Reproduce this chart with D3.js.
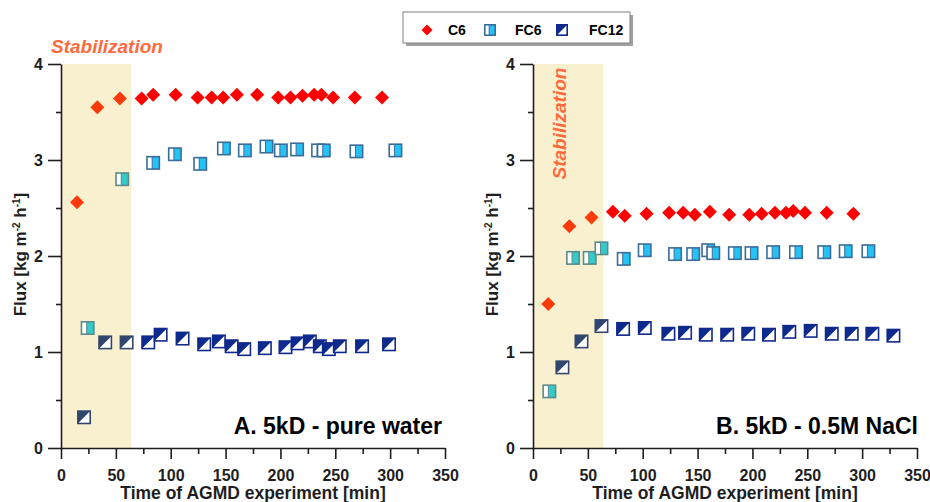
<!DOCTYPE html>
<html><head><meta charset="utf-8">
<script src="https://cdn.jsdelivr.net/npm/d3@7/dist/d3.min.js"></script>
<style>
body{margin:0;background:#fff}
svg{display:block;font-family:"Liberation Sans",Arial,Helvetica,sans-serif}
</style></head><body>
<svg id="chart" width="930" height="502"></svg>
<script>
// ---- data ----
const seriesNames = ["C6", "FC6", "FC12"];
const panelTitles = ["A. 5kD - pure water", "B. 5kD - 0.5M NaCl"];
const xTickValues = [0, 50, 100, 150, 200, 250, 300, 350];
const xMinorTicks = [25, 75, 125, 175, 225, 275, 325];
const yTickValues = [0, 1, 2, 3, 4];
const yMinorTicks = [0.5, 1.5, 2.5, 3.5];
const stabilizationEnd = 64; // min
const xTitle = "Time of AGMD experiment [min]";
const bandLabel = "Stabilization";

// Panel A: 5kD - pure water
const c6TimeA = [14.6, 33.1, 53.7, 73.5, 84, 104.5, 124.5, 137.3, 147.8, 160.3, 178.8, 197.9, 209.2, 220.1, 230.7, 237.4, 248, 267.8, 292.6];
const c6FluxA = [2.56, 3.55, 3.64, 3.64, 3.68, 3.68, 3.65, 3.65, 3.65, 3.68, 3.68, 3.65, 3.65, 3.67, 3.68, 3.68, 3.65, 3.65, 3.65];
const fc6TimeA = [24.3, 55.8, 84, 103.8, 126.9, 148.5, 167.6, 187.3, 200.4, 215.2, 234.3, 239.5, 269.3, 304.8];
const fc6FluxA = [1.25, 2.80, 2.97, 3.06, 2.96, 3.12, 3.10, 3.14, 3.10, 3.11, 3.10, 3.10, 3.09, 3.10];
const fc12TimeA = [21, 40.3, 59.8, 79.5, 90.8, 110.8, 130.5, 143.9, 155.5, 167, 185.8, 204.6, 215.6, 226.8, 235.9, 244.1, 254.1, 274.4, 299];
const fc12FluxA = [0.32, 1.10, 1.10, 1.10, 1.18, 1.14, 1.08, 1.11, 1.06, 1.03, 1.04, 1.05, 1.09, 1.11, 1.06, 1.03, 1.06, 1.06, 1.08];

// Panel B: 5kD - 0.5M NaCl
const c6TimeB = [13.9, 33.1, 53.3, 72.8, 83.6, 103.5, 124.1, 136.9, 147.5, 161.2, 178.8, 197.1, 208.4, 220.5, 230.6, 237.2, 247.9, 267.7, 292];
const c6FluxB = [1.50, 2.31, 2.40, 2.46, 2.42, 2.44, 2.45, 2.45, 2.43, 2.46, 2.43, 2.43, 2.44, 2.45, 2.45, 2.47, 2.45, 2.45, 2.44];
const fc6TimeB = [14.9, 36.5, 51.7, 62.4, 82.7, 101.8, 129.5, 146, 159.7, 164.3, 184, 199.2, 218.9, 239.7, 265.5, 285, 305.7];
const fc6FluxB = [0.59, 1.98, 1.98, 2.08, 1.97, 2.06, 2.02, 2.02, 2.06, 2.03, 2.03, 2.03, 2.04, 2.04, 2.04, 2.05, 2.05];
const fc12TimeB = [26.8, 44.2, 62.4, 82.1, 101.9, 123.4, 138.6, 157.5, 177, 196.2, 215.1, 233.6, 253.1, 272.3, 290.5, 309.3, 328.5];
const fc12FluxB = [0.84, 1.11, 1.27, 1.24, 1.25, 1.19, 1.20, 1.18, 1.18, 1.19, 1.18, 1.21, 1.22, 1.19, 1.19, 1.19, 1.17];

// ---- styling ----
const ink = "#1e1e1e";
const bandFill = "#f9f0cf";
const bandText = "#ff6a3d";
const palette = {
  C6:   { normal: { fill: "#ff0000" },                                  band: { fill: "#ff3a0a" } },
  FC6:  { normal: { fill: "#25c3f5", stroke: "#3b6d9b" },              band: { fill: "#35c9c9", stroke: "#5a8c8c" } },
  FC12: { normal: { fill: "#0d2a8e", stroke: "#10298a" },              band: { fill: "#2f4670", stroke: "#34466a" } }
};

const svg = d3.select("#chart");
const y = d3.scaleLinear().domain([0, 4]).range([448, 64]);

function zip(t, f) { return t.map((v, i) => ({ t: v, f: f[i] })); }

const panels = [
  { range: [61, 445], title: panelTitles[0], titleEnd: 442, vertLabel: false,
    series: { C6: zip(c6TimeA, c6FluxA), FC6: zip(fc6TimeA, fc6FluxA), FC12: zip(fc12TimeA, fc12FluxA) } },
  { range: [533, 917], title: panelTitles[1], titleEnd: 918, vertLabel: true,
    series: { C6: zip(c6TimeB, c6FluxB), FC6: zip(fc6TimeB, fc6FluxB), FC12: zip(fc12TimeB, fc12FluxB) } }
];

// marker painters, centred on (0,0)
function drawMarker(g, name, col, s) {
  if (name === "C6") {
    g.append("path").attr("d", `M0,${-s}L${s},0L0,${s}L${-s},0Z`).attr("fill", col.fill);
  } else if (name === "FC6") {
    const h = s - 0.8;
    g.append("rect").attr("x", -h).attr("y", -h).attr("width", 2 * h).attr("height", 2 * h).attr("fill", col.fill);
    g.append("rect").attr("x", -h).attr("y", -h).attr("width", 2 * h * 0.42).attr("height", 2 * h).attr("fill", "#fff");
    g.append("line").attr("x1", -h + 2 * h * 0.42).attr("x2", -h + 2 * h * 0.42).attr("y1", -h).attr("y2", h)
      .attr("stroke", col.stroke).attr("stroke-width", 1);
    g.append("rect").attr("x", -h).attr("y", -h).attr("width", 2 * h).attr("height", 2 * h)
      .attr("fill", "none").attr("stroke", col.stroke).attr("stroke-width", 1.6);
  } else {
    const h = s - 0.8;
    g.append("rect").attr("x", -h).attr("y", -h).attr("width", 2 * h).attr("height", 2 * h).attr("fill", "#fff");
    g.append("path").attr("d", `M${-h},${-h}L${h},${-h}L${-h},${h}Z`).attr("fill", col.fill);
    g.append("rect").attr("x", -h).attr("y", -h).attr("width", 2 * h).attr("height", 2 * h)
      .attr("fill", "none").attr("stroke", col.stroke).attr("stroke-width", 1.6);
  }
}

panels.forEach(p => {
  const x = d3.scaleLinear().domain([0, 350]).range(p.range);
  const g = svg.append("g");

  // stabilization band
  g.append("rect")
    .attr("x", x(0)).attr("y", y(4))
    .attr("width", x(stabilizationEnd) - x(0)).attr("height", y(0) - y(4))
    .attr("fill", bandFill);

  // band label
  const lbl = g.append("text").text(bandLabel)
    .attr("fill", bandText).attr("font-size", 19).attr("font-weight", "bold")
    .attr("font-style", "italic").attr("text-anchor", "middle");
  if (p.vertLabel) {
    lbl.attr("transform", `translate(${x(0) + 33},${123.5}) rotate(-90)`);
  } else {
    lbl.attr("x", x(0) + 46).attr("y", 53);
  }

  // axes
  const yAxis = g.append("g").attr("transform", `translate(${x(0)},0)`)
    .call(d3.axisLeft(y).tickValues(yTickValues).tickFormat(d3.format("d"))
      .tickSize(13).tickSizeOuter(0).tickPadding(5));
  g.append("g").attr("transform", `translate(${x(0)},0)`)
    .call(d3.axisLeft(y).tickValues(yMinorTicks).tickSize(5).tickFormat(""))
    .select(".domain").remove();
  const xAxis = g.append("g").attr("transform", `translate(0,${y(0)})`)
    .call(d3.axisBottom(x).tickValues(xTickValues).tickFormat(d3.format("d"))
      .tickSize(11).tickSizeOuter(0).tickPadding(11));
  g.append("g").attr("transform", `translate(0,${y(0)})`)
    .call(d3.axisBottom(x).tickValues(xMinorTicks).tickSize(6).tickFormat(""))
    .select(".domain").remove();

  g.selectAll(".domain, .tick line").attr("stroke", ink).attr("stroke-width", 1.6);
  [yAxis, xAxis].forEach(a => a.selectAll("text")
    .attr("fill", ink).attr("font-size", 16).attr("font-weight", "bold")
    .attr("font-family", '"Liberation Sans",Arial,sans-serif'));

  // axis titles
  g.append("text").text(xTitle)
    .attr("x", (p.range[0] + p.range[1]) / 2).attr("y", 499)
    .attr("text-anchor", "middle").attr("font-size", 17.5).attr("font-weight", "bold").attr("fill", ink);

  const yt = g.append("text")
    .attr("transform", `translate(${x(0) - 35},254.5) rotate(-90)`)
    .attr("text-anchor", "middle").attr("font-size", 17).attr("font-weight", "bold").attr("fill", ink);
  yt.append("tspan").text("Flux [kg m");
  yt.append("tspan").text("-2").attr("font-size", 10).attr("dy", -6);
  yt.append("tspan").text(" h").attr("dy", 6);
  yt.append("tspan").text("-1").attr("font-size", 10).attr("dy", -6);
  yt.append("tspan").text("]").attr("dy", 6);

  // panel caption
  g.append("text").text(p.title)
    .attr("x", p.titleEnd).attr("y", 434)
    .attr("text-anchor", "end").attr("font-size", 23).attr("font-weight", "bold").attr("fill", "#000");

  // markers
  seriesNames.forEach(name => {
    g.append("g").selectAll("g").data(p.series[name]).join("g")
      .attr("transform", d => `translate(${x(d.t)},${y(d.f)})`)
      .each(function (d) {
        const col = d.t < stabilizationEnd ? palette[name].band : palette[name].normal;
        drawMarker(d3.select(this), name, col, 7);
      });
  });
});

// legend
const lg = svg.append("g").attr("transform", "translate(403,12)");
lg.append("rect").attr("x", 3).attr("y", 3).attr("width", 227).attr("height", 31).attr("fill", "#a0a0a0");
lg.append("rect").attr("width", 227).attr("height", 31).attr("fill", "#fff").attr("stroke", "#808080").attr("stroke-width", 1);
const legendPos = [{ m: 24, t: 45 }, { m: 87, t: 112 }, { m: 159, t: 186 }];
seriesNames.forEach((name, i) => {
  const it = lg.append("g");
  drawMarker(it.append("g").attr("transform", `translate(${legendPos[i].m},18)`), name, palette[name].normal, name === "C6" ? 5.5 : 6);
  it.append("text").text(name).attr("x", legendPos[i].t).attr("y", 23)
    .attr("font-size", 14).attr("font-weight", "bold").attr("fill", "#000");
});
</script>
</body></html>
